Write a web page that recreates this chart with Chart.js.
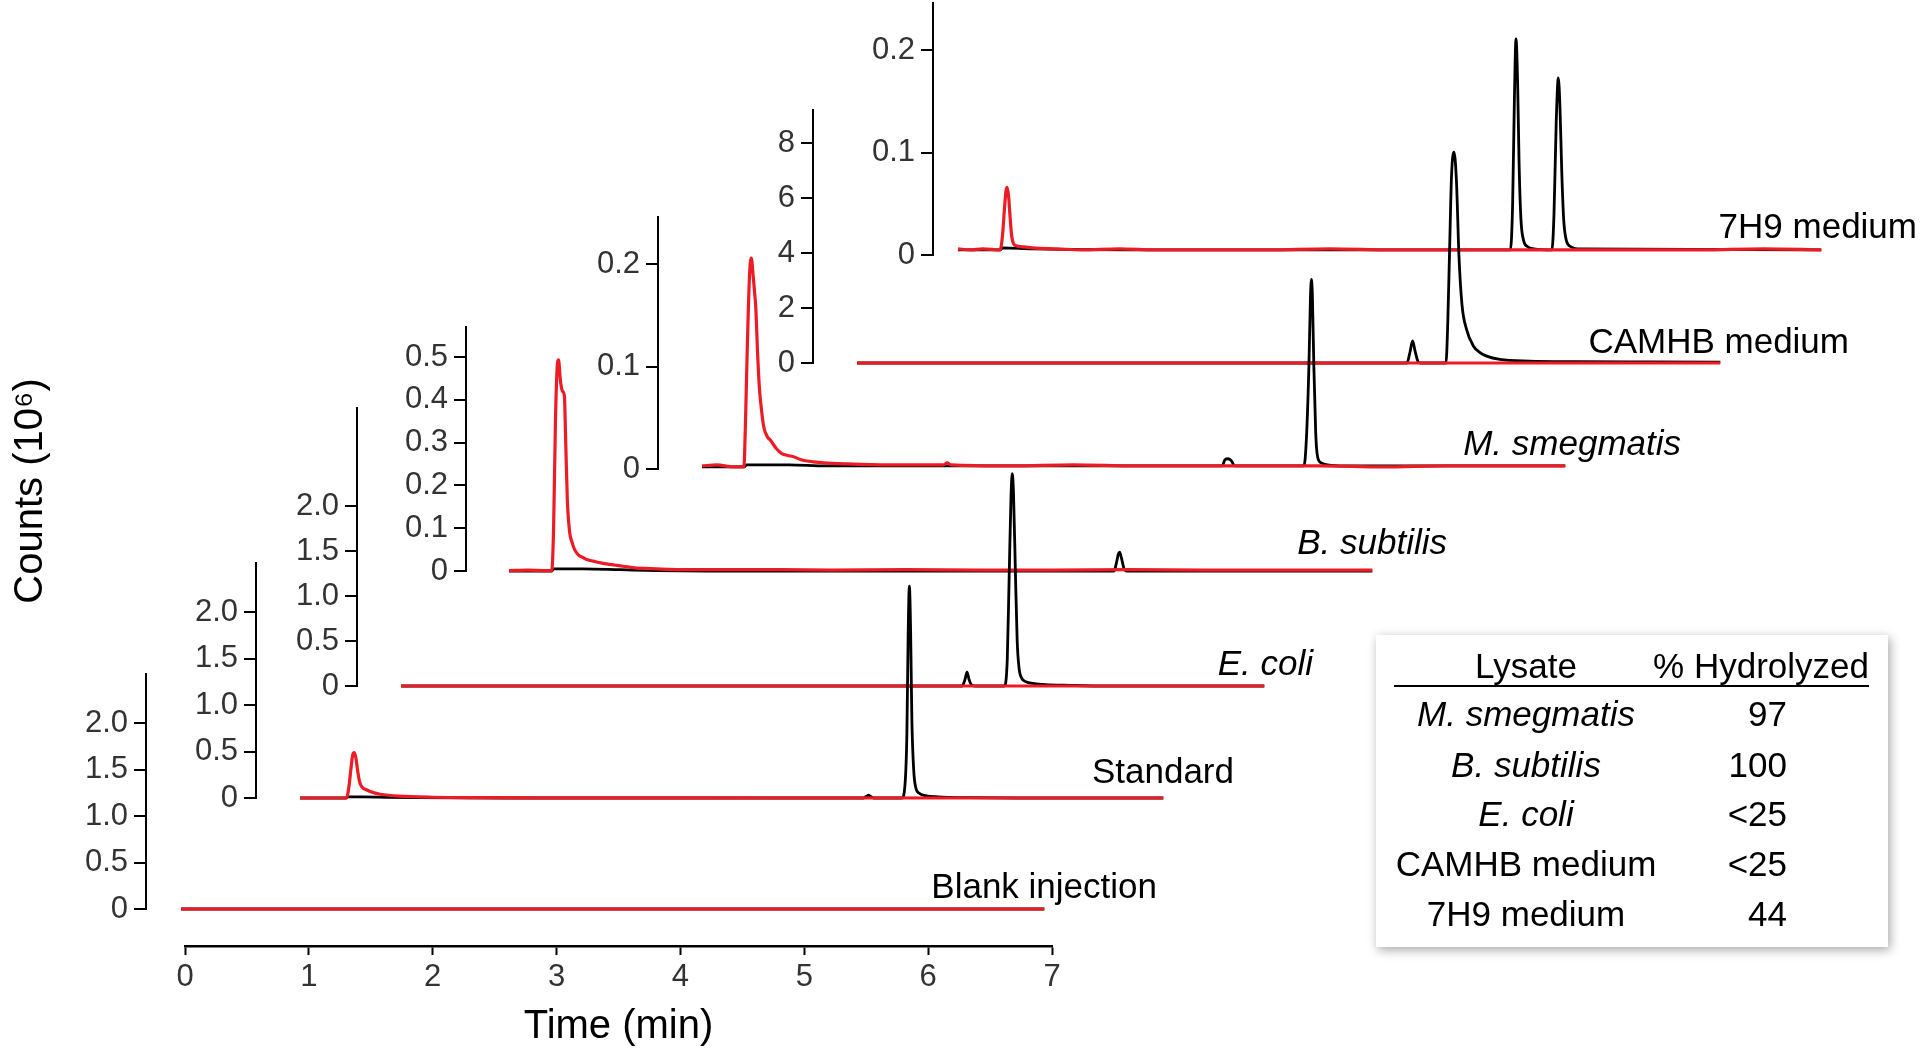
<!DOCTYPE html>
<html><head><meta charset="utf-8">
<script src="https://cdn.jsdelivr.net/npm/chart.js@4.4.1/dist/chart.umd.min.js"></script>
<style>
html,body{margin:0;padding:0;background:#fff;width:1920px;height:1052px;overflow:hidden;font-family:"Liberation Sans",Arial,sans-serif;}
#stage{position:relative;width:1920px;height:1052px;}
#stage canvas{position:absolute;left:0;top:0;pointer-events:none;}
.lab{position:absolute;font-size:35px;color:#000;white-space:nowrap;line-height:1;transform:translate(-100%,-50%);}
.it{font-style:italic;}
#tbl{position:absolute;left:1376px;top:635px;width:512px;height:312px;background:#fff;box-shadow:2px 3px 10px rgba(0,0,0,0.35);}
.tc{position:absolute;font-size:35px;line-height:1;white-space:nowrap;color:#000;}
#rule{position:absolute;left:18px;top:50px;width:475px;height:2px;background:#000;}
</style></head><body><div id="stage"></div>
<script>
// ---------- data ----------
const timeTicks = [0, 1, 2, 3, 4, 5, 6, 7];
const yTicksLarge = [0, 0.5, 1, 1.5, 2];
const yLabelsLarge = ['0', '0.5', '1.0', '1.5', '2.0'];
const yTicksBsub = [0, 0.1, 0.2, 0.3, 0.4, 0.5];
const yLabelsBsub = ['0', '0.1', '0.2', '0.3', '0.4', '0.5'];
const yTicksSmall = [0, 0.1, 0.2];
const yLabelsSmall = ['0', '0.1', '0.2'];
const yTicksCamhb = [0, 2, 4, 6, 8];
const yLabelsCamhb = ['0', '2', '4', '6', '8'];

const traceNames = ['Blank injection', 'Standard', 'E. coli', 'B. subtilis', 'M. smegmatis', 'CAMHB medium', '7H9 medium'];
const traceItalic = [false, false, true, true, true, false, false];
const traceYMax = [2.53, 2.53, 3.09, 0.57, 0.246, 9.2, 0.246];

const blankBlack = [[0,0],[6.97,0]];
const blankRed = [[0,0],[6.97,0]];

const standardBlack = [[0,0],[0.37,0],[0.385,0.012],[0.5,0.012],[0.7,0.008],[0.95,0.004],[1.3,0.001],[1.8,0],[4.55,0],[4.575,0.02],[4.59,0.03],[4.605,0.018],[4.63,0],[4.86,0],[4.885,0.15],[4.9,0.7],[4.91,1.75],[4.92,2.28],[4.93,1.8],[4.94,0.85],[4.955,0.3],[4.97,0.12],[5.0,0.05],[5.05,0.025],[5.15,0.012],[5.4,0.004],[5.8,0],[6.97,0]];
const standardRed = [[0,0],[0.375,0],[0.395,0.12],[0.41,0.3],[0.425,0.46],[0.437,0.49],[0.45,0.44],[0.465,0.3],[0.48,0.18],[0.5,0.12],[0.54,0.086],[0.6,0.055],[0.65,0.04],[0.8,0.02],[1.07,0.008],[1.5,0.004],[2.0,0.002],[3.0,0.001],[6.97,0]];

const ecoliBlack = [[0,0],[4.53,0],[4.553,0.07],[4.57,0.155],[4.587,0.07],[4.61,0.008],[4.64,0],[4.87,0],[4.895,0.3],[4.91,1.2],[4.925,2.1],[4.935,2.36],[4.945,2.15],[4.96,1.3],[4.975,0.5],[4.99,0.2],[5.01,0.09],[5.05,0.045],[5.1,0.03],[5.2,0.015],[5.4,0.007],[5.7,0],[6.97,0]];
const ecoliRed = [[0,0],[6.97,0]];

const bsubBlack = [[0,0],[0.345,0],[0.36,0.005],[0.6,0.005],[0.9,0.003],[1.2,0.001],[1.6,0],[4.885,0],[4.905,0.02],[4.92,0.04],[4.93,0.044],[4.945,0.03],[4.965,0.006],[4.99,0],[6.97,0]];
const bsubRed = [[0,0.001],[0.15,0.002],[0.3,0.001],[0.345,0.001],[0.36,0.1],[0.375,0.35],[0.39,0.48],[0.4,0.493],[0.415,0.445],[0.432,0.42],[0.447,0.41],[0.458,0.3],[0.471,0.166],[0.49,0.09],[0.508,0.068],[0.53,0.05],[0.562,0.037],[0.6,0.031],[0.634,0.026],[0.68,0.023],[0.742,0.019],[0.8,0.016],[0.85,0.014],[0.92,0.011],[0.994,0.008],[1.1,0.006],[1.28,0.004],[1.6,0.003],[2.2,0.003],[2.6,0.002],[3.2,0.003],[3.8,0.002],[4.4,0.002],[5.0,0.003],[5.6,0.002],[6.3,0.002],[6.97,0.002]];

const msmegBlack = [[0,0.002],[0.34,0.002],[0.36,0.004],[0.7,0.004],[1.0,0.003],[1.3,0.003],[2.5,0.003],[3.5,0.003],[4.2,0.003],[4.222,0.009],[4.248,0.01],[4.275,0.008],[4.3,0.003],[4.86,0.003],[4.88,0.03],[4.9,0.1],[4.912,0.165],[4.92,0.185],[4.928,0.17],[4.94,0.1],[4.955,0.035],[4.97,0.012],[5.0,0.006],[5.05,0.004],[5.2,0.003],[6.97,0.003]];
const msmegRed = [[0,0.003],[0.12,0.004],[0.25,0.002],[0.338,0.002],[0.352,0.05],[0.366,0.12],[0.384,0.19],[0.398,0.206],[0.412,0.19],[0.425,0.172],[0.434,0.158],[0.45,0.11],[0.463,0.08],[0.48,0.058],[0.499,0.041],[0.525,0.032],[0.553,0.028],[0.6,0.02],[0.644,0.015],[0.7,0.013],[0.734,0.0122],[0.8,0.009],[0.9,0.007],[0.985,0.006],[1.16,0.005],[1.5,0.004],[1.95,0.004],[1.98,0.006],[2.01,0.004],[2.5,0.003],[3.0,0.004],[3.5,0.003],[4.0,0.003],[4.5,0.003],[5.0,0.003],[5.5,0.002],[6.0,0.003],[6.5,0.003],[6.97,0.003]];

const camhbBlack = [[0,0],[4.44,0],[4.465,0.4],[4.486,0.8],[4.505,0.45],[4.53,0.05],[4.55,0],[4.755,0],[4.77,1.5],[4.785,4.2],[4.8,6.8],[4.82,7.67],[4.84,6.6],[4.86,3.9],[4.885,2.1],[4.92,1.24],[4.976,0.62],[5.03,0.38],[5.084,0.25],[5.19,0.13],[5.43,0.07],[5.8,0.05],[6.4,0.04],[6.97,0.03]];
const camhbRed = [[0,0],[6.97,0]];

const h9Black = [[0,0.005],[0.34,0.005],[0.36,0.007],[0.6,0.006],[2,0.005],[4.46,0.005],[4.478,0.05],[4.492,0.15],[4.505,0.211],[4.518,0.17],[4.53,0.09],[4.545,0.035],[4.565,0.015],[4.6,0.008],[4.65,0.006],[4.795,0.005],[4.812,0.04],[4.83,0.13],[4.847,0.173],[4.86,0.145],[4.875,0.08],[4.89,0.035],[4.91,0.015],[4.95,0.008],[5.0,0.006],[6.97,0.005]];
const h9Red = [[0,0.006],[0.1,0.005],[0.2,0.006],[0.34,0.005],[0.36,0.02],[0.375,0.045],[0.387,0.062],[0.396,0.066],[0.408,0.058],[0.42,0.038],[0.432,0.02],[0.445,0.012],[0.47,0.009],[0.52,0.008],[0.6,0.007],[0.8,0.006],[1.0,0.005],[1.3,0.006],[1.6,0.005],[2.0,0.005],[2.5,0.005],[3.0,0.006],[3.5,0.005],[4.0,0.005],[4.5,0.005],[5.0,0.005],[5.5,0.005],[6.0,0.005],[6.5,0.006],[6.97,0.005]];

const tableLysates = ['M. smegmatis', 'B. subtilis', 'E. coli', 'CAMHB medium', '7H9 medium'];
const tableItalic = [true, true, true, false, false];
const tableHydrolyzed = ['97', '100', '<25', '<25', '44'];

// ---------- layout (pixels) ----------
const PX_PER_MIN = 867 / 7;
const RED = '#ed1c24';
const TICK_FONT = 31;
Chart.defaults.font.family = '"Liberation Sans", Arial, sans-serif';

const traceSeries = [
  {black: blankBlack, red: blankRed, ticks: yTicksLarge, labels: yLabelsLarge},
  {black: standardBlack, red: standardRed, ticks: yTicksLarge, labels: yLabelsLarge},
  {black: ecoliBlack, red: ecoliRed, ticks: yTicksLarge, labels: yLabelsLarge},
  {black: bsubBlack, red: bsubRed, ticks: yTicksBsub, labels: yLabelsBsub},
  {black: msmegBlack, red: msmegRed, ticks: yTicksSmall, labels: yLabelsSmall},
  {black: camhbBlack, red: camhbRed, ticks: yTicksCamhb, labels: yLabelsCamhb},
  {black: h9Black, red: h9Red, ticks: yTicksSmall, labels: yLabelsSmall}
];
const traceLayout = [
  {axisX: 146, zeroY: 909, topY: 674, lineStart: 181, labelRight: 1157, labelY: 885},
  {axisX: 256, zeroY: 798, topY: 563, lineStart: 300, labelRight: 1234, labelY: 770},
  {axisX: 357, zeroY: 686, topY: 408, lineStart: 401, labelRight: 1313, labelY: 662},
  {axisX: 466, zeroY: 571, topY: 327, lineStart: 509, labelRight: 1447, labelY: 541},
  {axisX: 658, zeroY: 469, topY: 217, lineStart: 702, labelRight: 1681, labelY: 442},
  {axisX: 813, zeroY: 363, topY: 110, lineStart: 857, labelRight: 1849, labelY: 340},
  {axisX: 933, zeroY: 255, topY: 3,   lineStart: 958, labelRight: 1917, labelY: 225}
];

const stage = document.getElementById('stage');
function newCanvas() {
  const cv = document.createElement('canvas');
  cv.width = 1920; cv.height = 1052;
  cv.style.width = '1920px'; cv.style.height = '1052px';
  stage.appendChild(cv);
  return cv;
}
const toXY = arr => arr.map(p => ({x: p[0], y: p[1]}));

function makeTrace(i) {
  const tr = traceSeries[i], lay = traceLayout[i];
  const Wy = 100;
  const xMin = -(lay.lineStart - lay.axisX) / PX_PER_MIN;
  const xMax = xMin + (1920 - lay.axisX) / PX_PER_MIN;
  new Chart(newCanvas(), {
    type: 'line',
    data: {datasets: [
      {label: traceNames[i] + ' red', data: toXY(tr.red), borderColor: RED, borderWidth: 3.2, pointRadius: 0, cubicInterpolationMode: 'monotone', clip: false, fill: false},
      {label: traceNames[i] + ' black', data: toXY(tr.black), borderColor: '#000', borderWidth: 2.8, pointRadius: 0, cubicInterpolationMode: 'monotone', clip: false, fill: false}
    ]},
    options: {
      responsive: false, animation: false, devicePixelRatio: 1, events: [],
      layout: {padding: {left: lay.axisX - Wy, top: lay.topY, right: 0, bottom: 1052 - lay.zeroY}},
      plugins: {legend: {display: false}, tooltip: {enabled: false}, title: {display: false}},
      scales: {
        x: {type: 'linear', display: false, min: xMin, max: xMax},
        y: {
          type: 'linear', min: 0, max: traceYMax[i],
          afterFit(s) { s.width = Wy; s.paddingTop = 0; s.paddingBottom = 0; },
          afterBuildTicks(s) { s.ticks = tr.ticks.map(v => ({value: v})); },
          ticks: {autoSkip: false, padding: 6, color: '#333', font: {size: TICK_FONT}, callback: (v, k) => tr.labels[k]},
          grid: {drawOnChartArea: false, drawTicks: true, tickLength: 12, tickColor: '#000', tickWidth: 2, color: '#000', lineWidth: 2},
          border: {display: true, color: '#000', width: 2}
        }
      }
    }
  });
}
for (let i = traceSeries.length - 1; i >= 0; i--) makeTrace(i);

// bottom time axis + y title
new Chart(newCanvas(), {
  type: 'line',
  data: {datasets: []},
  options: {
    responsive: false, animation: false, devicePixelRatio: 1, events: [],
    layout: {padding: {left: 7, top: 36, right: 1920 - 1052, bottom: 1}},
    plugins: {legend: {display: false}, tooltip: {enabled: false}},
    scales: {
      x: {
        type: 'linear', position: 'bottom', min: 0, max: 7,
        afterFit(s) { s.height = 105; s.paddingLeft = 0; s.paddingRight = 0; },
        afterBuildTicks(s) { s.ticks = timeTicks.map(v => ({value: v})); },
        ticks: {autoSkip: false, maxRotation: 0, padding: 4, color: '#333', font: {size: TICK_FONT}, callback: (v, k) => String(timeTicks[k])},
        grid: {drawOnChartArea: false, drawTicks: true, tickLength: 9, tickColor: '#000', tickWidth: 2},
        border: {display: true, color: '#000', width: 2.5},
        title: {display: true, text: 'Time (min)', color: '#000', font: {size: 40}, padding: 0}
      },
      y: {
        type: 'linear', min: 0, max: 1,
        afterFit(s) { s.width = 178; s.paddingTop = 0; s.paddingBottom = 0; },
        grid: {display: false}, border: {display: false}, ticks: {display: false},
        title: {display: true, text: 'Counts (10\u2076)', color: '#000', font: {size: 40}, padding: 0}
      }
    }
  }
});

// trace labels
traceNames.forEach((name, i) => {
  const d = document.createElement('div');
  d.className = 'lab' + (traceItalic[i] ? ' it' : '');
  d.style.left = traceLayout[i].labelRight + 'px';
  d.style.top = traceLayout[i].labelY + 'px';
  d.textContent = name;
  stage.appendChild(d);
});

// table
const tbl = document.createElement('div');
tbl.id = 'tbl';
stage.appendChild(tbl);
function cell(text, x, y, anchor, italic) {
  const d = document.createElement('div');
  d.className = 'tc';
  d.textContent = text;
  d.style.left = x + 'px';
  d.style.top = y + 'px';
  d.style.transform = anchor === 'center' ? 'translate(-50%,-50%)' : (anchor === 'right' ? 'translate(-100%,-50%)' : 'translate(0,-50%)');
  if (italic) d.style.fontStyle = 'italic';
  tbl.appendChild(d);
}
cell('Lysate', 150, 30, 'center', false);
cell('% Hydrolyzed', 493, 30, 'right', false);
const rule = document.createElement('div'); rule.id = 'rule'; tbl.appendChild(rule);
const rowY = [78, 129, 178, 228, 278];
tableLysates.forEach((name, i) => {
  cell(name, 150, rowY[i], 'center', tableItalic[i]);
  cell(tableHydrolyzed[i], 411, rowY[i], 'right', false);
});
</script></body></html>
